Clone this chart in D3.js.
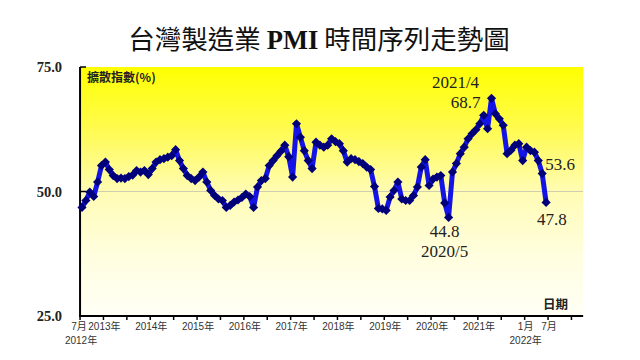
<!DOCTYPE html>
<html><head><meta charset="utf-8">
<script src="https://cdn.jsdelivr.net/npm/d3@7"></script>
<style>
html,body{margin:0;padding:0;background:#fff;}
svg{display:block;}
</style></head>
<body>
<svg id="chart" width="640" height="360"></svg>
<script>
// Monthly Taiwan manufacturing PMI, Jul 2012 .. Jun 2022 (index 0 = 2012/7)
const startYear = 2012, startMonth = 7;
const pmi = [
 46.8,48.2,49.9,49.0,51.9,55.2,55.9,54.4,53.2,52.6,52.7,52.6,
 53.0,53.3,54.2,53.9,54.2,53.4,54.6,55.9,56.4,56.6,56.9,57.2,
 58.4,56.2,54.6,53.2,52.6,52.2,52.9,53.9,51.9,50.2,49.2,48.5,
 48.2,46.8,47.2,47.9,48.3,48.8,49.5,49.0,46.8,50.9,52.2,52.6,
 55.2,56.2,57.2,58.1,59.3,57.0,52.9,63.6,60.9,58.2,56.2,54.6,
 59.9,59.3,58.9,59.3,60.6,60.0,59.6,58.2,55.9,56.6,56.4,56.0,
 55.6,54.9,54.4,51.0,46.6,46.5,46.2,48.9,50.2,51.9,48.5,48.2,
 48.2,49.2,50.9,54.9,56.4,51.2,52.5,52.9,53.2,47.7,44.8,53.9,
 55.6,57.6,58.9,60.6,61.6,62.4,63.6,65.3,62.6,68.7,65.6,64.6,
 63.3,57.6,58.3,59.3,59.6,56.2,58.9,58.2,57.9,56.2,53.6,47.8
];
const yTicks = [25, 50, 75];
// x-axis tick marks every 6 months (month index of the tick)
const tickIdx = d3.range(0, 127, 6);
const tickLabels = {0:"7月",6:"2013年",18:"2014年",30:"2015年",42:"2016年",54:"2017年",66:"2018年",78:"2019年",90:"2020年",102:"2021年",114:"1月",120:"7月"};
const yearLabels = {0:"2012年",114:"2022年"};
const annotations = [
  {i:105, text:"2021/4", dx:-36, dy:-16, anchor:"middle"},
  {i:105, text:"68.7", dx:-11, dy:4, anchor:"end"},
  {i:94, text:"44.8", dx:-4, dy:14, anchor:"middle"},
  {i:94, text:"2020/5", dx:-4, dy:34, anchor:"middle"},
  {i:118, text:"53.6", dx:3, dy:-10, anchor:"start"},
  {i:119, text:"47.8", dx:-9, dy:17, anchor:"start"}
];

const svg = d3.select("#chart");
const x = d3.scaleLinear().domain([0, 119]).range([82, 546.1]);
const y = d3.scaleLinear().domain([25, 75]).range([316, 67]);
const xMin = x(-0.5), xMax = x(128.5);

const defs = svg.append("defs");
const g = defs.append("linearGradient").attr("id","bg").attr("x1",0).attr("y1",0).attr("x2",0).attr("y2",1);
[[0,"#ffff00"],[0.25,"#fffb50"],[0.5,"#fffcb4"],[0.75,"#fffede"],[1,"#fffff6"]].forEach(s=>
  g.append("stop").attr("offset",s[0]).attr("stop-color",s[1]));

svg.append("rect").attr("x",xMin).attr("y",y(75)).attr("width",xMax-xMin).attr("height",y(25)-y(75)).attr("fill","url(#bg)");

// gridline at 50
svg.append("line").attr("x1",xMin).attr("x2",xMax).attr("y1",y(50)).attr("y2",y(50))
  .attr("stroke","#cfcdb0").attr("stroke-width",1);

// title
const title = svg.append("text").attr("x",319).attr("y",49).attr("text-anchor","middle")
  .attr("font-size",26.5).attr("fill","#111").attr("font-family","'Noto Sans CJK TC',sans-serif");
title.append("tspan").text("台灣製造業 ");
title.append("tspan").attr("font-family","'Liberation Serif',serif").attr("font-weight","bold").text("PMI");
title.append("tspan").text(" 時間序列走勢圖");

// y labels
svg.selectAll(".ylab").data(yTicks).join("text").attr("class","ylab")
  .attr("x",62).attr("y",d=>y(d)).attr("dy","0.35em").attr("text-anchor","end")
  .attr("font-family","'Liberation Serif',serif").attr("font-weight","bold").attr("font-size",14.5)
  .attr("fill","#222").text(d=>d.toFixed(1));

// y axis
svg.append("line").attr("x1",x(-0.5)).attr("x2",x(-0.5)).attr("y1",y(75)).attr("y2",y(25)+1)
  .attr("stroke","#000").attr("stroke-width",2);
svg.selectAll(".ytick").data(yTicks.slice(1)).join("line").attr("class","ytick")
  .attr("x1",x(-0.5)).attr("x2",x(-0.5)+6).attr("y1",d=>y(d)).attr("y2",d=>y(d))
  .attr("stroke","#000").attr("stroke-width",1.5);

// x axis
svg.append("line").attr("x1",xMin-1).attr("x2",xMax).attr("y1",y(25)).attr("y2",y(25))
  .attr("stroke","#000").attr("stroke-width",2);
svg.selectAll(".xtick").data(tickIdx).join("line").attr("class","xtick")
  .attr("x1",d=>x(d-0.5)).attr("x2",d=>x(d-0.5)).attr("y1",y(25)).attr("y2",y(25)+4)
  .attr("stroke","#000").attr("stroke-width",1.5);
svg.selectAll(".xlab").data(Object.keys(tickLabels).map(Number)).join("text").attr("class","xlab")
  .attr("x",d=>x(d-0.5)+(d===0?-1:1)).attr("y",330).attr("text-anchor","middle")
  .attr("font-family","'Liberation Sans','Noto Sans CJK TC',sans-serif").attr("font-size",10)
  .attr("fill","#333").text(d=>tickLabels[d]);
svg.selectAll(".yrlab").data(Object.keys(yearLabels).map(Number)).join("text").attr("class","yrlab")
  .attr("x",d=>x(d-0.5)+1).attr("y",344).attr("text-anchor","middle")
  .attr("font-family","'Liberation Sans','Noto Sans CJK TC',sans-serif").attr("font-size",10)
  .attr("fill","#333").text(d=>yearLabels[d]);

// axis titles
svg.append("text").attr("x",x(-0.5)+7).attr("y",y(75)+15).attr("font-size",12).attr("font-weight","bold")
  .attr("font-family","'Noto Sans CJK TC',sans-serif").attr("fill","#222").text("擴散指數(%)");
svg.append("text").attr("x",x(119)-3).attr("y",y(25)-7).attr("font-size",12.5).attr("font-weight","bold")
  .attr("font-family","'Noto Sans CJK TC',sans-serif").attr("fill","#222").text("日期");

// line
const line = d3.line().x((d,i)=>x(i)).y(d=>y(d));
svg.append("path").datum(pmi).attr("d",line).attr("fill","none")
  .attr("stroke","#1414e6").attr("stroke-width",5).attr("stroke-linejoin","round");
svg.selectAll(".pt").data(pmi).join("path").attr("class","pt")
  .attr("d",d3.symbol().type(d3.symbolSquare).size(42))
  .attr("transform",(d,i)=>`translate(${x(i)},${y(d)}) rotate(45)`)
  .attr("fill","#00007a");

// annotations
svg.selectAll(".ann").data(annotations).join("text").attr("class","ann")
  .attr("x",d=>x(d.i)+d.dx).attr("y",d=>y(pmi[d.i])+d.dy).attr("dy","0.35em")
  .attr("text-anchor",d=>d.anchor).attr("font-family","'Liberation Serif',serif")
  .attr("font-size",17).attr("fill","#222").text(d=>d.text);
</script>
</body></html>
